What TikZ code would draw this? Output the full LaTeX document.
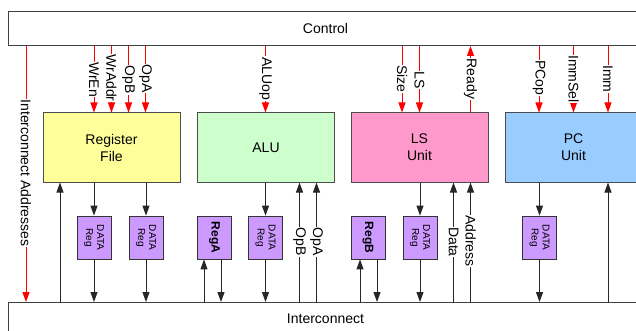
\documentclass[tikz,border=0pt]{standalone}
\usepackage{fontspec}
\setmainfont{Liberation Sans}
\usetikzlibrary{arrows.meta}
\definecolor{rfyellow}{HTML}{FFFF99}
\definecolor{alugreen}{HTML}{CCFFCC}
\definecolor{lspink}{HTML}{FF99CC}
\definecolor{pcblue}{HTML}{99CCFF}
\definecolor{regpurple}{HTML}{CC99FF}
\tikzset{
  frame/.style={draw=black!75, line width=1pt, anchor=north west, minimum width=634pt, inner sep=0pt, font=\fontsize{14}{16}\selectfont},
  block/.style={draw=black!70, line width=1pt, minimum width=137pt, minimum height=69pt, inner sep=0pt, align=center, font=\fontsize{14}{17}\selectfont},
  dreg/.style={draw=black!80, line width=0.8pt, fill=regpurple, rotate=-90, minimum width=43pt, minimum height=34pt, inner sep=0pt, align=center, font=\fontsize{10}{11}\selectfont},
  bold reg/.style={dreg, font=\fontsize{12}{14}\selectfont\bfseries},
  lbl/.style={rotate=-90, fill=white, inner xsep=0.6pt, inner ysep=1pt, font=\fontsize{14}{16}\selectfont},
  ctl/.style={draw=red, line width=1pt, -{Triangle[length=10pt,width=7pt]}},
  arr/.style={draw=black!85, line width=1pt, -{Triangle[length=10pt,width=7pt]}},
}
\begin{document}
\begin{tikzpicture}[x=1pt,y=-1pt]
\useasboundingbox (0,0) rectangle (636,331);
\clip (0,0) rectangle (636,331);

% frames
\node[frame, minimum height=34pt] (ctrl) at (8,11) {Control};
\node[frame, minimum height=32pt] (ic) at (8,302) {Interconnect};

% blocks
\node[block, fill=rfyellow] (rf) at (111.5,147.5) {Register\\File};
\node[block, fill=alugreen] (alu) at (266,147.5) {ALU};
\node[block, fill=lspink] (ls) at (419.5,147.5) {LS\\Unit};
\node[block, fill=pcblue] (pc) at (573.5,147.5) {PC\\Unit};

% registers
\node[dreg] (d1) at (94,237.5) {DATA\\Reg};
\node[dreg] (d2) at (146,237.5) {DATA\\Reg};
\node[bold reg] (ra) at (214.5,237.5) {RegA};
\node[dreg] (d3) at (265.5,237.5) {DATA\\Reg};
\node[bold reg] (rb) at (368,237.5) {RegB};
\node[dreg] (d4) at (420,237.5) {DATA\\Reg};
\node[dreg] (d5) at (539.5,237.5) {DATA\\Reg};

% control lines
\draw[ctl] (ctrl.south -| 26,0) -- (ic.north -| 26,0);
\draw[ctl] (ctrl.south -| 94,0) -- (rf.north -| 94,0);
\draw[ctl] (ctrl.south -| 111.5,0) -- (rf.north -| 111.5,0);
\draw[ctl] (ctrl.south -| 128.5,0) -- (rf.north -| 128.5,0);
\draw[ctl] (ctrl.south -| 145.5,0) -- (rf.north -| 145.5,0);
\draw[ctl] (ctrl.south -| 265.5,0) -- (alu.north -| 265.5,0);
\draw[ctl] (ctrl.south -| 402,0) -- (ls.north -| 402,0);
\draw[ctl] (ctrl.south -| 419.5,0) -- (ls.north -| 419.5,0);
\draw[ctl] (ls.north -| 470.5,0) -- (ctrl.south -| 470.5,0);
\draw[ctl] (ctrl.south -| 539,0) -- (pc.north -| 539,0);
\draw[ctl] (ctrl.south -| 573.5,0) -- (pc.north -| 573.5,0);
\draw[ctl] (ctrl.south -| 608,0) -- (pc.north -| 608,0);

% data lines
\draw[arr] (ic.north -| 60,0) -- (rf.south -| 60,0);
\draw[arr] (rf.south -| d1) -- (d1.west);
\draw[arr] (d1.east) -- (ic.north -| d1);
\draw[arr] (rf.south -| d2) -- (d2.west);
\draw[arr] (d2.east) -- (ic.north -| d2);
\draw[arr] (ic.north -| 204,0) -- (ra.east -| 204,0);
\draw[arr] (ra.east -| 221,0) -- (ic.north -| 221,0);
\draw[arr] (alu.south -| d3) -- (d3.west);
\draw[arr] (d3.east) -- (ic.north -| d3);
\draw[arr] (ic.north -| 299.5,0) -- (alu.south -| 299.5,0);
\draw[arr] (ic.north -| 316.5,0) -- (alu.south -| 316.5,0);
\draw[arr] (ic.north -| 360,0) -- (rb.east -| 360,0);
\draw[arr] (rb.east -| 377,0) -- (ic.north -| 377,0);
\draw[arr] (ls.south -| d4) -- (d4.west);
\draw[arr] (d4.east) -- (ic.north -| d4);
\draw[arr] (ic.north -| 453.5,0) -- (ls.south -| 453.5,0);
\draw[arr] (ic.north -| 470.5,0) -- (ls.south -| 470.5,0);
\draw[arr] (pc.south -| d5) -- (d5.west);
\draw[arr] (d5.east) -- (ic.north -| d5);
\draw[arr] (ic.north -| 608,0) -- (pc.south -| 608,0);

% labels
\node[lbl] (lia) at (26,173) {Interconnect Addresses};
\node[lbl] (lwren) at (94,79.5) {WrEn};
\node[lbl] (lwraddr) at (111.5,78) {WrAddr};
\node[lbl] (lopb) at (128.5,80) {OpB};
\node[lbl] (lopa) at (145.5,78.5) {OpA};
\node[lbl] (laluop) at (265.5,78.5) {ALUop};
\node[lbl] (lsize) at (402,79) {Size};
\node[lbl] (lls) at (419.5,80) {LS};
\node[lbl] (lready) at (470.5,79) {Ready};
\node[lbl] (lpcop) at (539,78) {PCop};
\node[lbl] (limmsel) at (573.5,79) {ImmSel};
\node[lbl] (limm) at (608,79) {Imm};
\node[lbl] (lopb2) at (299.5,242) {OpB};
\node[lbl] (lopa2) at (316.5,242) {OpA};
\node[lbl] (ldata) at (453.5,242) {Data};
\node[lbl] (laddr) at (470.5,241) {Address};
\end{tikzpicture}
\end{document}
